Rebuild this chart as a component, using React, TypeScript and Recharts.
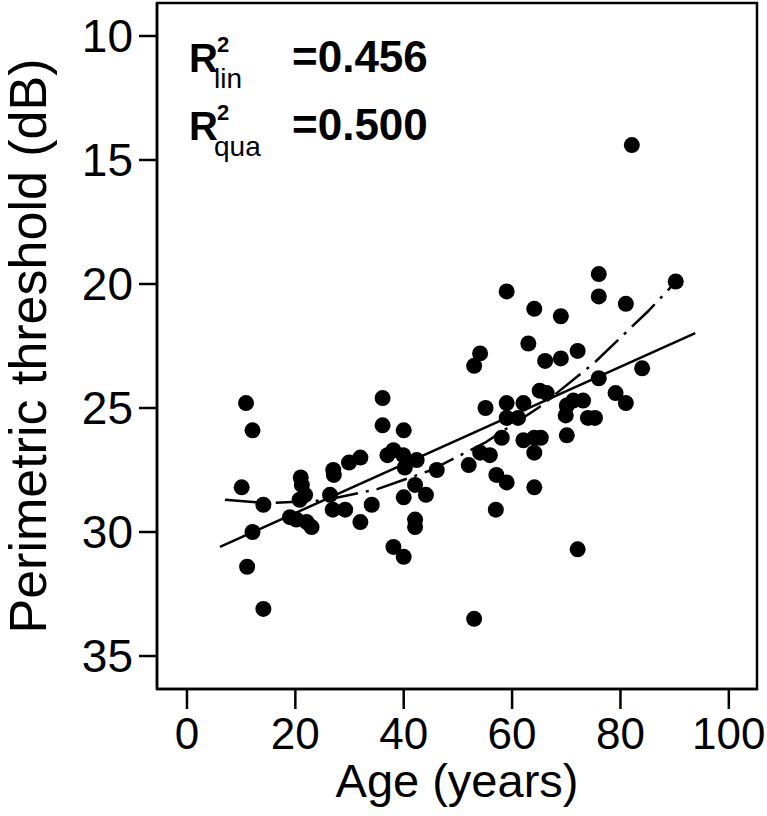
import { ScatterChart, Scatter, XAxis, YAxis, Label, ReferenceArea } from 'recharts';

// age (years) and perimetric threshold (dB) of each subject
const ages = [
  10.9, 12.1, 10.1, 14.1, 12.1, 11.1, 14.1, 21.0, 21.2, 21.8, 20.8, 19.0, 20.2, 22.1, 23.0,
  27.0, 27.1, 26.4, 26.9, 29.2, 29.9, 32.0, 32.0, 34.1, 37.0, 38.1, 39.9, 40.2, 42.4, 42.1,
  40.0, 44.1, 42.1, 42.1, 38.1, 40.0, 46.1, 36.1, 36.1, 40.0, 59.0, 64.1, 69.0, 76.0, 76.0,
  81.0, 90.2, 54.1, 53.0, 63.0, 66.1, 69.0, 72.1, 84.0, 76.0, 79.1, 81.0, 55.1, 59.0, 62.1,
  65.1, 66.4, 59.0, 61.1, 70.1, 71.3, 73.1, 69.9, 74.0, 75.3, 58.1, 62.1, 64.1, 65.3, 70.1,
  64.1, 54.1, 55.9, 52.0, 57.1, 59.0, 64.1, 57.0, 72.1, 53.0, 82.1,
];
const thresholds = [
  24.8, 25.9, 28.2, 28.9, 30.0, 31.4, 33.1, 27.8, 28.1, 28.5, 28.7, 29.4, 29.5, 29.6, 29.8,
  27.5, 27.7, 28.5, 29.1, 29.1, 27.2, 27.0, 29.6, 28.9, 26.9, 26.7, 26.9, 27.4, 27.1, 28.1,
  28.6, 28.5, 29.5, 29.8, 30.6, 31.0, 27.5, 24.6, 25.7, 25.9, 20.3, 21.0, 21.3, 19.6, 20.5,
  20.8, 19.9, 22.8, 23.3, 22.4, 23.1, 23.0, 22.7, 23.4, 23.8, 24.4, 24.8, 25.0, 24.8, 24.8,
  24.3, 24.4, 25.4, 25.4, 24.9, 24.7, 24.7, 25.3, 25.4, 25.4, 26.2, 26.3, 26.2, 26.2, 26.1,
  26.8, 26.8, 26.9, 27.3, 27.7, 28.0, 28.2, 29.1, 30.7, 33.5, 14.4,
];

// fitted curves
const linAges = [6.1, 93.8];
const linValues = [30.6, 21.98];
const quaAges = [7, 15, 25, 35, 45, 55, 65, 75, 85, 90.2];
const quaValues = [28.7, 28.84, 28.73, 28.28, 27.51, 26.4, 24.97, 23.21, 21.12, 19.92];

const xTicks = [0, 20, 40, 60, 80, 100];
const yTicks = [10, 15, 20, 25, 30, 35];

const points = ages.map((a, i) => ({ age: a, threshold: thresholds[i] }));
const linLine = linAges.map((a, i) => ({ age: a, threshold: linValues[i] }));
const quaLine = quaAges.map((a, i) => ({ age: a, threshold: quaValues[i] }));

const font = '"Liberation Sans", Arial, sans-serif';
const axisStroke = { stroke: '#000', strokeWidth: 2.5 };
const xDomain = [-5.53, 105.2];
const yDomain = [8.67, 36.33];

const noDot = () => <g />;
const dot = (p: any) => <circle cx={p.cx} cy={p.cy} r={8} fill="#000" />;

export default function App() {
  return (
    <div style={{ position: 'relative', width: 767, height: 816 }}>
      <style>{`body{margin:0;background:#fff}`}</style>
      <ScatterChart
        width={767}
        height={816}
        margin={{ top: 3, right: 10, left: 0, bottom: 0 }}
      >
        <XAxis
          type="number"
          dataKey="age"
          domain={xDomain}
          ticks={xTicks}
          allowDataOverflow
          height={127}
          tickSize={20}
          tickMargin={9}
          axisLine={axisStroke}
          tickLine={axisStroke}
          tick={{ fill: '#000', fontSize: 44, fontFamily: font }}
        >
          <Label
            content={({ viewBox }: any) => (
              <text
                x={viewBox.x + viewBox.width / 2}
                y={797}
                textAnchor="middle"
                fontSize={47}
                fontFamily={font}
                fill="#000"
              >
                Age (years)
              </text>
            )}
          />
        </XAxis>
        <YAxis
          type="number"
          dataKey="threshold"
          domain={yDomain}
          ticks={yTicks}
          reversed
          allowDataOverflow
          width={157}
          tickSize={18}
          tickMargin={6}
          axisLine={axisStroke}
          tickLine={axisStroke}
          tick={{ fill: '#000', fontSize: 46, fontFamily: font }}
        >
          <Label
            content={({ viewBox }: any) => {
              const cy = viewBox.y + viewBox.height / 2;
              return (
                <text
                  x={46}
                  y={cy}
                  transform={`rotate(-90, 46, ${cy})`}
                  textAnchor="middle"
                  fontSize={52}
                  fontFamily={font}
                  fill="#000"
                >
                  Perimetric threshold (dB)
                </text>
              );
            }}
          />
        </YAxis>
        <ReferenceArea
          x1={xDomain[0]}
          x2={xDomain[1]}
          y1={yDomain[0]}
          y2={yDomain[1]}
          fill="none"
          fillOpacity={0}
          stroke="#000"
          strokeWidth={2.5}
          strokeOpacity={1}
          ifOverflow="visible"
        />
        <Scatter
          data={linLine}
          line={{ stroke: '#000', strokeWidth: 2.5 }}
          lineType="joint"
          shape={noDot}
          isAnimationActive={false}
        />
        <Scatter
          data={quaLine}
          line={{ stroke: '#000', strokeWidth: 2.5, strokeDasharray: '32 8 3 8' }}
          lineType="joint"
          shape={noDot}
          isAnimationActive={false}
        />
        <Scatter data={points} fill="#000" shape={dot} isAnimationActive={false} />
      </ScatterChart>
      <svg
        width={767}
        height={816}
        style={{ position: 'absolute', left: 0, top: 0, pointerEvents: 'none' }}
      >
        <g fontFamily={font} fill="#000">
          <text x={189} y={72} fontSize={40} fontWeight="bold">R</text>
          <text x={217} y={52} fontSize={22} fontWeight="bold">2</text>
          <text x={214} y={88} fontSize={28}>lin</text>
          <text x={292} y={72} fontSize={44} fontWeight="bold">=0.456</text>
          <text x={189} y={140} fontSize={40} fontWeight="bold">R</text>
          <text x={217} y={120} fontSize={22} fontWeight="bold">2</text>
          <text x={214} y={156} fontSize={28}>qua</text>
          <text x={292} y={140} fontSize={44} fontWeight="bold">=0.500</text>
        </g>
      </svg>
    </div>
  );
}
